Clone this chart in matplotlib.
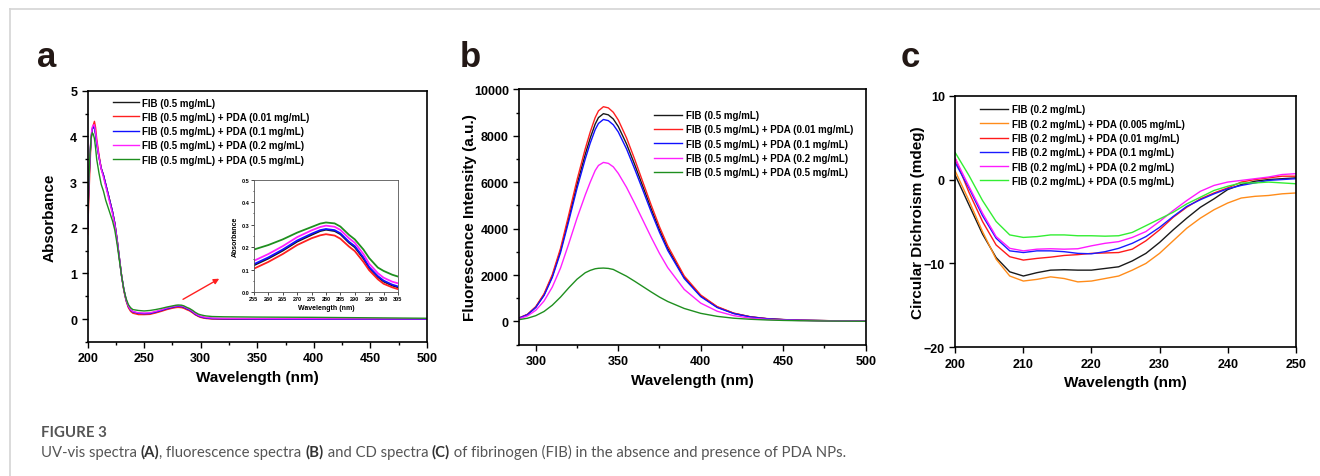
import numpy as np
import matplotlib
matplotlib.use("Agg")
import matplotlib.pyplot as plt
from matplotlib.lines import Line2D
from matplotlib.ticker import MultipleLocator, FormatStrFormatter

plt.rcParams['font.family'] = ['Liberation Sans', 'DejaVu Sans']
plt.rcParams['font.weight'] = 'bold'

# ---- panel a: UV-vis absorbance ----
wl_a = [200, 201, 202, 203, 204, 205, 206, 207, 208, 210, 212, 214, 216, 218, 220,
        222, 224, 226, 228, 230, 232, 234, 236, 238, 240, 245, 250, 255, 260, 265,
        270, 275, 278, 280, 283, 285, 288, 290, 293, 295, 298, 300, 303, 305, 310,
        320, 350, 400, 450, 500]
abs_fib = [2.0, 2.9, 3.5, 3.95, 4.15, 4.2, 4.2, 4.05, 3.85, 3.55, 3.3, 3.15, 2.95, 2.75, 2.55,
           2.35, 2.1, 1.75, 1.35, 0.95, 0.65, 0.42, 0.28, 0.2, 0.16, 0.125, 0.115, 0.12, 0.15, 0.185,
           0.225, 0.255, 0.272, 0.278, 0.272, 0.258, 0.22, 0.2, 0.15, 0.108, 0.068, 0.048, 0.03, 0.022, 0.01,
           0.005, 0.0, 0.0, 0.0, 0.0]
abs_001 = [1.85, 2.6, 3.3, 3.9, 4.15, 4.25, 4.33, 4.2, 3.95, 3.6, 3.3, 3.15, 2.95, 2.75, 2.55,
           2.35, 2.1, 1.75, 1.35, 0.95, 0.62, 0.4, 0.25, 0.17, 0.13, 0.1, 0.1, 0.105, 0.135, 0.17,
           0.21, 0.24, 0.253, 0.258, 0.252, 0.238, 0.203, 0.183, 0.135, 0.098, 0.058, 0.038, 0.022, 0.014, 0.006,
           0.003, 0.0, 0.0, 0.0, 0.0]
abs_01 = [2.0, 2.9, 3.5, 3.95, 4.15, 4.2, 4.2, 4.05, 3.85, 3.55, 3.3, 3.15, 2.95, 2.75, 2.55,
          2.35, 2.1, 1.75, 1.35, 0.95, 0.65, 0.42, 0.28, 0.2, 0.16, 0.13, 0.12, 0.125, 0.155, 0.19,
          0.23, 0.26, 0.276, 0.281, 0.276, 0.262, 0.224, 0.205, 0.155, 0.112, 0.072, 0.052, 0.034, 0.026, 0.014,
          0.008, 0.003, 0.0, 0.0, 0.0]
abs_02 = [2.15, 3.0, 3.6, 4.0, 4.2, 4.25, 4.25, 4.1, 3.9, 3.55, 3.28, 3.1, 2.9, 2.7, 2.5,
          2.3, 2.06, 1.72, 1.33, 0.95, 0.65, 0.43, 0.29, 0.21, 0.17, 0.14, 0.135, 0.14, 0.17, 0.205,
          0.245, 0.275, 0.29, 0.296, 0.291, 0.277, 0.24, 0.22, 0.17, 0.127, 0.085, 0.065, 0.047, 0.04, 0.025,
          0.02, 0.015, 0.012, 0.01, 0.01]
abs_05 = [2.2, 3.0, 3.6, 3.95, 4.08, 4.05, 3.95, 3.75, 3.5, 3.2, 2.95, 2.8, 2.6, 2.45, 2.3,
          2.15, 1.95, 1.65, 1.3, 0.95, 0.65, 0.45, 0.32, 0.25, 0.21, 0.19, 0.18, 0.19, 0.21, 0.235,
          0.265, 0.29, 0.305, 0.31, 0.306, 0.292, 0.255, 0.235, 0.19, 0.152, 0.11, 0.095, 0.078, 0.07, 0.058,
          0.052, 0.046, 0.04, 0.03, 0.02]
labels_a = ['FIB (0.5 mg/mL)', 'FIB (0.5 mg/mL) + PDA (0.01 mg/mL)', 'FIB (0.5 mg/mL) + PDA (0.1 mg/mL)',
            'FIB (0.5 mg/mL) + PDA (0.2 mg/mL)', 'FIB (0.5 mg/mL) + PDA (0.5 mg/mL)']

# ---- panel b: fluorescence ----
wl_b = [290, 295, 300, 305, 310, 315, 320, 325, 330, 333, 336, 338, 341, 344, 347, 350, 355, 360,
        365, 370, 375, 380, 390, 400, 410, 420, 430, 440, 450, 460, 480, 500]
fl_fib = [150, 300, 620, 1150, 1950, 3050, 4450, 5900, 7200, 7900, 8500, 8780, 8950, 8900, 8720, 8400, 7650, 6750,
          5800, 4850, 3950, 3150, 1900, 1100, 620, 350, 200, 120, 80, 55, 30, 15]
fl_001 = [155, 310, 640, 1190, 2015, 3150, 4600, 6100, 7440, 8160, 8780, 9070, 9250, 9200, 9010, 8680, 7910, 6980,
          5990, 5010, 4080, 3260, 1960, 1140, 640, 360, 205, 125, 82, 57, 31, 15]
fl_01 = [146, 292, 603, 1118, 1895, 2965, 4325, 5735, 7000, 7680, 8260, 8530, 8700, 8650, 8470, 8165, 7435, 6560,
         5640, 4715, 3840, 3060, 1850, 1070, 600, 340, 195, 117, 78, 53, 29, 15]
fl_02 = [120, 240, 480, 880, 1480, 2300, 3350, 4450, 5450, 6000, 6500, 6720, 6850, 6810, 6660, 6380, 5780, 5080,
         4350, 3620, 2930, 2320, 1380, 790, 440, 250, 145, 90, 60, 42, 25, 12]
fl_05 = [80, 140, 250, 430, 700, 1050, 1450, 1820, 2100, 2200, 2270, 2290, 2300, 2285, 2240, 2130, 1950, 1730,
         1500, 1270, 1050, 860, 560, 350, 220, 140, 95, 65, 45, 32, 18, 8]

# ---- panel c: circular dichroism ----
wl_c = [200, 202, 204, 206, 208, 210, 212, 214, 216, 218, 220, 222, 224, 226, 228,
        230, 232, 234, 236, 238, 240, 242, 244, 246, 248, 250]
cd_fib = [0.5, -3.0, -6.5, -9.3, -11.0, -11.5, -11.1, -10.8, -10.75, -10.8, -10.8, -10.6, -10.4, -9.7, -8.8,
          -7.5, -6.0, -4.6, -3.3, -2.3, -1.2, -0.6, -0.2, 0.0, 0.1, 0.2]
cd_0005 = [1.0, -2.5, -6.2, -9.5, -11.5, -12.1, -11.9, -11.6, -11.8, -12.2, -12.1, -11.8, -11.5, -10.8, -10.0,
           -8.8, -7.3, -5.8, -4.6, -3.6, -2.8, -2.2, -2.0, -1.9, -1.7, -1.6]
cd_001 = [2.5, -1.5, -5.0, -7.8, -9.2, -9.6, -9.4, -9.25, -9.05, -8.95, -8.8, -8.75, -8.7, -8.3, -7.3,
          -6.0, -4.5, -3.3, -2.3, -1.6, -1.0, -0.3, 0.0, 0.2, 0.4, 0.4]
cd_01 = [2.0, -1.0, -4.3, -7.0, -8.5, -8.7, -8.5, -8.5, -8.6, -8.8, -8.85, -8.6, -8.2, -7.6, -6.8,
         -5.7, -4.4, -3.2, -2.4, -1.7, -1.1, -0.7, -0.4, -0.1, 0.0, 0.1]
cd_02 = [2.5, -0.8, -4.0, -6.8, -8.2, -8.5, -8.3, -8.25, -8.3, -8.25, -7.9, -7.6, -7.4, -6.9, -6.2,
         -5.0, -3.7, -2.5, -1.4, -0.7, -0.3, -0.1, 0.1, 0.3, 0.6, 0.7]
cd_05 = [3.2, 0.5, -2.5, -5.0, -6.6, -6.9, -6.8, -6.6, -6.6, -6.7, -6.7, -6.75, -6.7, -6.3, -5.5,
         -4.7, -3.9, -2.9, -2.1, -1.3, -0.8, -0.4, -0.4, -0.3, -0.4, -0.5]
labels_c = ['FIB (0.2 mg/mL)', 'FIB (0.2 mg/mL) + PDA (0.005 mg/mL)', 'FIB (0.2 mg/mL) + PDA (0.01 mg/mL)',
            'FIB (0.2 mg/mL) + PDA (0.1 mg/mL)', 'FIB (0.2 mg/mL) + PDA (0.2 mg/mL)',
            'FIB (0.2 mg/mL) + PDA (0.5 mg/mL)']

cols_ab = ['#1a1a1a', '#ff2020', '#1010ff', '#ff20ff', '#1f8f1f']
cols_c = ['#1a1a1a', '#ff8c1a', '#ff1a1a', '#1a1aff', '#ff1aff', '#33ee33']


def style(ax, fs=9, major=4, minor=2):
    for s in ax.spines.values():
        s.set_linewidth(1.2)
    ax.tick_params(which='both', direction='out', top=False, right=False, width=1.0,
                   labelsize=fs)
    ax.tick_params(which='major', length=major)
    ax.tick_params(which='minor', length=minor)


fig = plt.figure(figsize=(13.2, 4.77), dpi=100)

# frame around the figure
fig.add_artist(Line2D([9.5 / 1320, 1], [1 - 9.5 / 477] * 2, color='#d4d4d4', lw=1.2))
fig.add_artist(Line2D([9.5 / 1320] * 2, [0, 1 - 9.5 / 477], color='#d4d4d4', lw=1.2))

for txt, xp in [('a', 37), ('b', 460), ('c', 901)]:
    fig.text(xp / 1320, 1 - 67 / 477, txt, fontsize=25, fontweight='bold', color='#231815',
             va='baseline', ha='left')

# panel a
axa = fig.add_axes([0.0664, 0.2809, 0.2570, 0.5268])
ys_a = [abs_fib, abs_001, abs_01, abs_02, abs_05]
for y, c, lab in zip(ys_a, cols_ab, labels_a):
    axa.plot(wl_a, y, color=c, lw=1.0, label=lab)
axa.set_xlim(200, 500)
axa.set_ylim(-0.5, 5)
axa.xaxis.set_major_locator(MultipleLocator(50))
axa.xaxis.set_minor_locator(MultipleLocator(25))
axa.yaxis.set_major_locator(MultipleLocator(1))
axa.yaxis.set_minor_locator(MultipleLocator(0.5))
style(axa)
axa.set_xlabel('Wavelength (nm)', fontsize=11, fontweight='bold', labelpad=4)
axa.set_ylabel('Absorbance', fontsize=11, fontweight='bold', labelpad=10)
axa.legend(loc='upper left', bbox_to_anchor=(0.0737, 0.973), frameon=False, borderpad=0,
           borderaxespad=0, fontsize=7, handlelength=2.7, handletextpad=0.35, labelspacing=0.44)
axa.annotate('', xy=(318.5, 0.916), xytext=(282.2, 0.404),
             arrowprops=dict(arrowstyle='-|>', color='#ff2020', lw=1.0, mutation_scale=8))

# inset of panel a
axi = fig.add_axes([0.1924, 0.3851, 0.1091, 0.2361])
for y, c in zip(ys_a, cols_ab):
    axi.plot(wl_a, y, color=c, lw=1.3)
axi.set_xlim(255, 305)
axi.set_ylim(0, 0.5)
axi.xaxis.set_major_locator(MultipleLocator(5))
axi.yaxis.set_major_locator(MultipleLocator(0.1))
axi.yaxis.set_minor_locator(MultipleLocator(0.05))
for s in axi.spines.values():
    s.set_linewidth(0.6)
    s.set_color('#555555')
axi.tick_params(which='both', direction='out', top=False, right=False, width=0.5, labelsize=4, pad=1)
axi.tick_params(which='major', length=2)
axi.tick_params(which='minor', length=1)
axi.xaxis.set_major_formatter(FormatStrFormatter('%d'))
axi.yaxis.set_major_formatter(FormatStrFormatter('%.1f'))
axi.set_xlabel('Wavelength (nm)', fontsize=5, fontweight='bold', labelpad=2)
axi.set_ylabel('Absorbance', fontsize=5, fontweight='bold', labelpad=2)

# panel b
axb = fig.add_axes([0.3934, 0.2753, 0.2624, 0.5354])
ys_b = [fl_fib, fl_001, fl_01, fl_02, fl_05]
for y, c, lab in zip(ys_b, cols_ab, labels_a):
    axb.plot(wl_b, y, color=c, lw=1.0, label=lab)
axb.set_xlim(290, 500)
axb.set_ylim(-1000, 10000)
axb.set_xticks([300, 350, 400, 450, 500])
axb.xaxis.set_minor_locator(MultipleLocator(25))
axb.yaxis.set_major_locator(MultipleLocator(2000))
axb.yaxis.set_minor_locator(MultipleLocator(1000))
style(axb)
axb.set_yticks([0, 2000, 4000, 6000, 8000, 10000])
axb.set_xlabel('Wavelength (nm)', fontsize=11, fontweight='bold', labelpad=4)
axb.set_ylabel('Fluorescence Intensity (a.u.)', fontsize=11, fontweight='bold', labelpad=-2)
axb.legend(loc='upper left', bbox_to_anchor=(0.389, 0.9186), frameon=False, borderpad=0,
           borderaxespad=0, fontsize=7, handlelength=2.9, handletextpad=0.35, labelspacing=0.44)

# panel c
axc = fig.add_axes([0.7237, 0.2698, 0.2579, 0.5275])
ys_c = [cd_fib, cd_0005, cd_001, cd_01, cd_02, cd_05]
for y, c, lab in zip(ys_c, cols_c, labels_c):
    axc.plot(wl_c, y, color=c, lw=1.0, label=lab)
axc.set_xlim(200, 250)
axc.set_ylim(-20, 10)
axc.set_xticks([200, 210, 220, 230, 240, 250])
axc.set_yticks([-20, -10, 0, 10])
style(axc)
axc.set_xlabel('Wavelength (nm)', fontsize=11, fontweight='bold', labelpad=4)
axc.set_ylabel('Circular Dichroism (mdeg)', fontsize=11, fontweight='bold', labelpad=-1)
axc.legend(loc='upper left', bbox_to_anchor=(0.0726, 0.9654), frameon=False, borderpad=0,
           borderaxespad=0, fontsize=7, handlelength=2.9, handletextpad=0.35, labelspacing=0.44)

# caption
cap_font = ['Lato', 'DejaVu Sans']
fig.text(41 / 1320, 1 - 433 / 477, 'FIGURE 3', fontsize=10.8, family=cap_font, fontweight='bold',
         color='#555555', va='center', ha='left')
pieces = [('UV-vis spectra ', 'normal'), ('(A)', 'bold'), (', fluorescence spectra ', 'normal'),
          ('(B)', 'bold'), (' and CD spectra ', 'normal'), ('(C)', 'bold'),
          (' of fibrinogen (FIB) in the absence and presence of PDA NPs.', 'normal')]
prev = fig.text(41 / 1320, 1 - 453 / 477, pieces[0][0], fontsize=10.7, family=cap_font,
                fontweight='normal', color='#555555', va='center', ha='left')
for s, w in pieces[1:]:
    prev = axa.annotate(s, xy=(1, 0), xycoords=prev, ha='left', va='bottom', fontsize=10.7,
                        family=cap_font, fontweight=w,
                        color='#333333' if w == 'bold' else '#555555', annotation_clip=False)

fig.savefig('out.png', dpi=100)
